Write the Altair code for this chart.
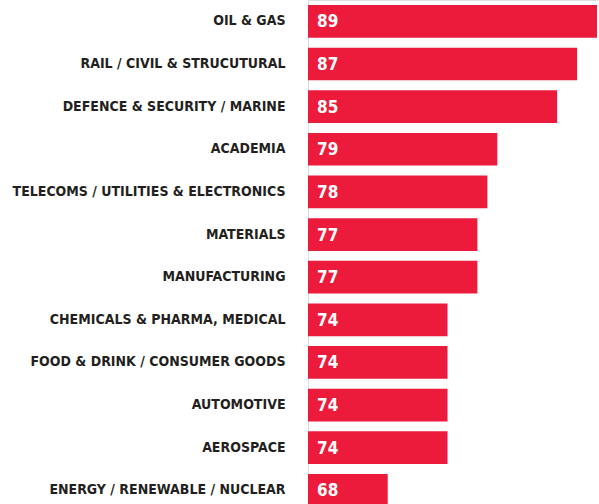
import altair as alt
import pandas as pd

sectors = [
    "OIL & GAS",
    "RAIL / CIVIL & STRUCUTURAL",
    "DEFENCE & SECURITY / MARINE",
    "ACADEMIA",
    "TELECOMS / UTILITIES & ELECTRONICS",
    "MATERIALS",
    "MANUFACTURING",
    "CHEMICALS & PHARMA, MEDICAL",
    "FOOD & DRINK  / CONSUMER GOODS",
    "AUTOMOTIVE",
    "AEROSPACE",
    "ENERGY / RENEWABLE / NUCLEAR",
]
scores = [89, 87, 85, 79, 78, 77, 77, 74, 74, 74, 74, 68]

df = pd.DataFrame({"sector": sectors, "score": scores})

FONT = "'DejaVu Sans Condensed', 'Liberation Sans Narrow', 'Roboto Condensed', sans-serif"
RED = "#ED1B3B"

x_scale = alt.Scale(domain=[60, 89.1], zero=False, nice=False)
y_enc = alt.Y(
    "sector:N",
    sort=None,
    scale=alt.Scale(range=[0, 511.7], paddingInner=0.233, paddingOuter=0.117),
    axis=alt.Axis(
        title=None, domain=False, ticks=False, labelPadding=23,
        labelFont=FONT, labelFontSize=14, labelFontWeight="bold",
        labelColor="#231F20", labelLimit=400,
    ),
)

bars = alt.Chart(df).mark_bar(color=RED, clip=True).encode(
    x=alt.X("score:Q", scale=x_scale, axis=None),
    x2=alt.datum(60),
    y=y_enc,
)

labels = alt.Chart(df).mark_text(
    align="left", baseline="middle", dx=9, dy=1, color="white",
    font=FONT, fontSize=17, fontWeight="bold", clip=True,
).encode(
    x=alt.datum(60),
    y=alt.Y("sector:N", sort=None),
    text="score:Q",
)

chart = (
    alt.layer(bars, labels)
    .properties(
        width=290, height=504,
        autosize=alt.AutoSizeParams(type="none"),
        padding={"left": 308, "top": 0, "right": 0, "bottom": 0},
    )
    .configure_view(stroke=None)
    .configure(background="white")
)

chart.save("out.html", embed_options={"renderer": "svg", "actions": False})
